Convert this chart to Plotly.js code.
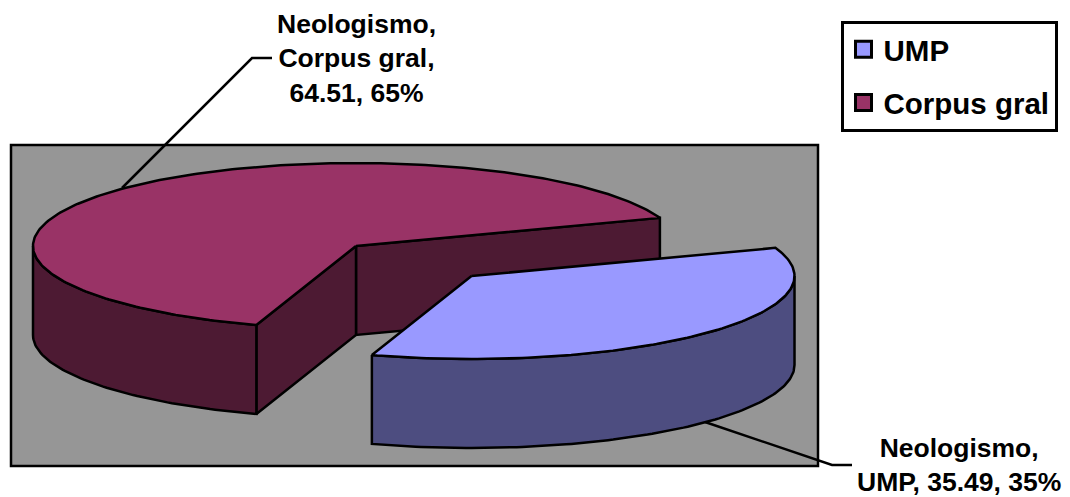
<!DOCTYPE html>
<html>
<head>
<meta charset="utf-8">
<script src="https://cdn.plot.ly/plotly-3.0.1.min.js"></script>
<style>html,body{margin:0;padding:0;background:#fff;}#c{width:1070px;height:497px;}</style>
</head>
<body>
<div id="c"></div>
<script>
const categories = ["UMP", "Corpus gral"];
const values = [35.49, 64.51];
const percents = [35, 65];
const labels = ["Neologismo,<br>UMP, 35.49, 35%", "Neologismo,<br>Corpus gral,<br>64.51, 65%"];
const topColors = ["#9999FF", "#993366"];
const wallColors = ["#4D4D80", "#4D1A33"];

// projection of the tilted pie on the page
const rx = 323, ry = 83, depth = 89, startDeg = 19.8;
const corpusCentre = [356, 246], umpCentre = [471.5, 276];
const FONT = '"Liberation Sans", Arial, sans-serif';
const LW = 2.5;

const total = values.reduce((a, b) => a + b, 0);
const corpusSweep = values[1] / total * 360;
const corpusEnd = startDeg + corpusSweep;
const umpEnd = corpusEnd + values[0] / total * 360;

function pt(c, deg, dy) {
  const t = deg * Math.PI / 180;
  return [c[0] + rx * Math.cos(t), c[1] - ry * Math.sin(t) + (dy || 0)];
}
function arc(c, a, b, dy) {
  const out = [], n = Math.max(2, Math.ceil(Math.abs(b - a)));
  for (let i = 0; i <= n; i++) out.push(pt(c, a + (b - a) * i / n, dy));
  return out;
}
function poly(pts, fill, extra) {
  const p = pts.concat([pts[0]]);
  return Object.assign({
    type: "scatter", mode: "lines", x: p.map(q => q[0]), y: p.map(q => q[1]),
    fill: "toself", fillcolor: fill, line: {color: "#000", width: LW, shape: "linear"},
    hoverinfo: "skip", showlegend: false
  }, extra || {});
}
function lead(pts) {
  return {type: "scatter", mode: "lines", x: pts.map(q => q[0]), y: pts.map(q => q[1]),
    line: {color: "#000", width: LW}, hoverinfo: "skip", showlegend: false};
}
function wallInner(c, deg, color) {
  const p = pt(c, deg);
  return poly([c, p, [p[0], p[1] + depth], [c[0], c[1] + depth]], color);
}
function wallOuter(c, a, b, color) {
  return poly(arc(c, a, b, 0).concat(arc(c, b, a, depth)), color);
}
function legendEntry(i) {
  return {type: "scatter", mode: "markers", x: [null], y: [null], name: categories[i],
    legendgroup: categories[i], showlegend: true, hoverinfo: "skip",
    marker: {symbol: "square", size: 16, color: topColors[i], line: {color: "#000", width: 3}}};
}

const traces = [
  lead([[122, 188], [252, 58], [272, 58]]),
  wallInner(corpusCentre, startDeg, wallColors[1]),
  wallInner(corpusCentre, corpusEnd, wallColors[1]),
  wallOuter(corpusCentre, 180, corpusEnd, wallColors[1]),
  poly([corpusCentre].concat(arc(corpusCentre, startDeg, corpusEnd, 0)), topColors[1]),
  lead([[705, 422], [832, 465], [852, 465]]),
  wallOuter(umpCentre, corpusEnd, 360, wallColors[0]),
  poly([umpCentre].concat(arc(umpCentre, corpusEnd, umpEnd, 0)), topColors[0]),
  legendEntry(0),
  legendEntry(1)
];

const layout = {
  width: 1070, height: 497,
  margin: {l: 0, r: 0, t: 0, b: 0},
  paper_bgcolor: "#fff", plot_bgcolor: "#fff",
  font: {family: FONT, color: "#000"},
  xaxis: {range: [0, 1070], visible: false, fixedrange: true},
  yaxis: {range: [497, 0], visible: false, fixedrange: true},
  shapes: [{type: "rect", layer: "below", xref: "x", yref: "y", x0: 11, x1: 818, y0: 145, y1: 466,
    fillcolor: "#969696", line: {color: "#000", width: 2.5}}],
  legend: {x: 840.5 / 1070, y: 1 - 20.5 / 497, xanchor: "left", yanchor: "top",
    bgcolor: "#fff", bordercolor: "#000", borderwidth: 3,
    font: {family: FONT, size: 29.5, color: "#000", weight: 700},
    itemwidth: 30, tracegroupgap: 12, traceorder: "grouped"},
  annotations: [
    {text: labels[1], x: 356, y: 58, xref: "x", yref: "y", showarrow: false, align: "center",
      font: {family: FONT, size: 26.5, color: "#000", weight: 700}},
    {text: labels[0], x: 959, y: 465, xref: "x", yref: "y", showarrow: false, align: "center",
      font: {family: FONT, size: 26.5, color: "#000", weight: 700}}
  ]
};
Plotly.newPlot("c", traces, layout, {displayModeBar: false, staticPlot: true});
</script>
</body>
</html>
